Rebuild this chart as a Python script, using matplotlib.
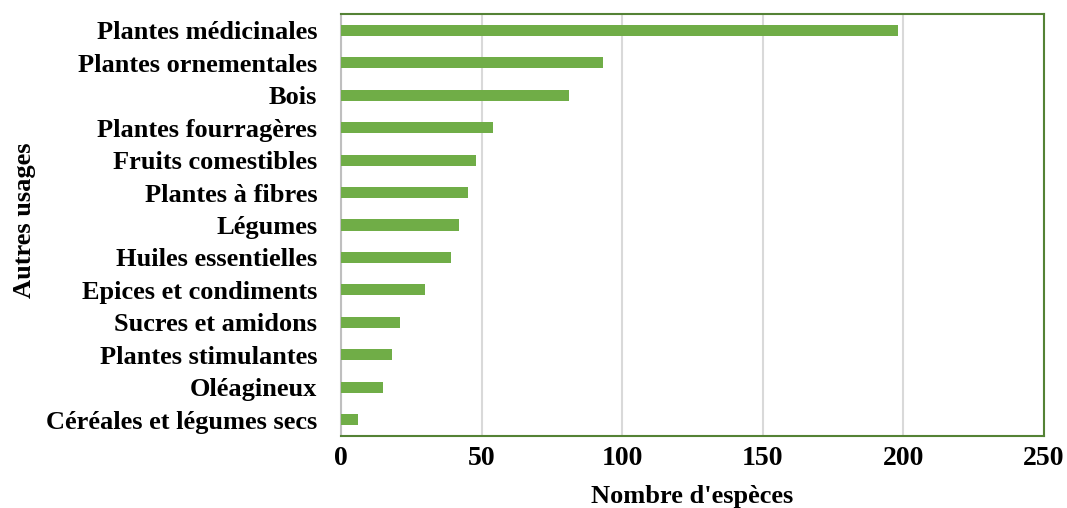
import matplotlib
matplotlib.use("Agg")
import matplotlib.pyplot as plt

usages = ["Plantes médicinales", "Plantes ornementales", "Bois",
          "Plantes fourragères", "Fruits comestibles", "Plantes à fibres",
          "Légumes", "Huiles essentielles", "Epices et condiments",
          "Sucres et amidons", "Plantes stimulantes", "Oléagineux",
          "Céréales et légumes secs"]
nb_especes = [198, 93, 81, 54, 48, 45, 42, 39, 30, 21, 18, 15, 6]
x_ticks = [0, 50, 100, 150, 200, 250]

plt.rcParams['font.family'] = ['Liberation Serif', 'DejaVu Serif']
plt.rcParams['font.weight'] = 'bold'

fig = plt.figure(figsize=(10.67, 5.08), dpi=100)
ax = fig.add_axes([341/1067, 1 - 436/508, (1044-341)/1067, (436-14)/508])

pos = list(range(len(usages)))[::-1]
ax.barh(pos, nb_especes, height=0.34, color='#70AD47', zorder=3)

ax.set_xlim(0, 250)
ax.set_ylim(-0.5, len(usages) - 0.5)
ax.set_xticks(x_ticks)
ax.set_xticklabels([str(t) for t in x_ticks], fontsize=20, fontweight='bold')
ax.set_yticks(pos)
ax.set_yticklabels(usages, fontsize=19, fontweight='bold')
ax.tick_params(axis='both', length=0)
ax.tick_params(axis='x', pad=7)
ax.tick_params(axis='y', pad=17)

ax.grid(axis='x', color='#D9D9D9', linewidth=1.5, zorder=0)
for name, sp in ax.spines.items():
    sp.set_color('#548235')
    sp.set_linewidth(1.5)
ax.spines['left'].set_color('#BFBFBF')

ax.set_xlabel("Nombre d'espèces", fontsize=19, fontweight='bold', labelpad=10)
fig.text(25/1067, 1 - 220/508, "Autres usages", rotation=90, fontsize=19,
         fontweight='bold', ha='center', va='center')

fig.savefig("out.png", dpi=100)
